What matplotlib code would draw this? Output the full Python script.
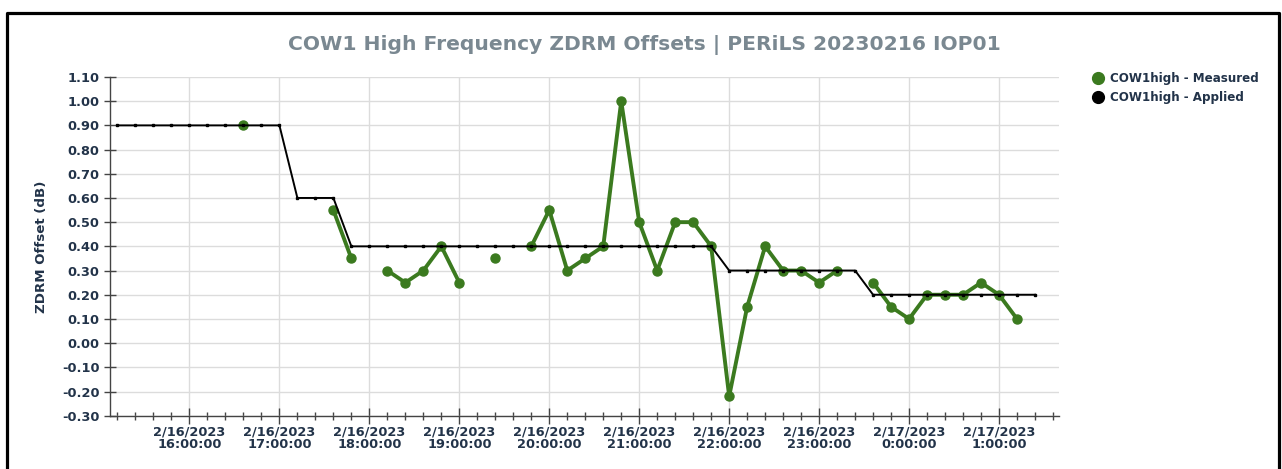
import matplotlib
matplotlib.use("Agg")
import matplotlib.pyplot as plt
import matplotlib.dates as mdates
from matplotlib.lines import Line2D
from matplotlib.ticker import FuncFormatter, MultipleLocator
import numpy as np
import pandas as pd

# ---- data ----
times = pd.date_range("2023-02-16 15:12", "2023-02-17 01:24", freq="12min")
measured = [None, None, None, None, None, None, None, 0.90, None, None,
            None, None, 0.55, 0.35, None, 0.30, 0.25, 0.30, 0.40, 0.25,
            None, 0.35, None, 0.40, 0.55, 0.30, 0.35, 0.40, 1.00, 0.50,
            0.30, 0.50, 0.50, 0.40, -0.22, 0.15, 0.40, 0.30, 0.30, 0.25,
            0.30, None, 0.25, 0.15, 0.10, 0.20, 0.20, 0.20, 0.25, 0.20,
            0.10, None]
applied = [0.90] * 10 + [0.60] * 3 + [0.40] * 21 + [0.30] * 8 + [0.20] * 10

title = "COW1 High Frequency ZDRM Offsets | PERiLS 20230216 IOP01"
ylabel = "ZDRM Offset (dB)"
series_names = ["COW1high - Measured", "COW1high - Applied"]

GREEN = "#3b7a1f"
TXT = "#223349"

plt.rcParams["font.family"] = ["DejaVu Sans"]

fig = plt.figure(figsize=(12.82, 4.69), dpi=100)
ax = fig.add_axes([110 / 1282, 1 - 415.7 / 469, (1059 - 110) / 1282, (415.7 - 77) / 469])

meas = np.array([np.nan if v is None else v for v in measured], dtype=float)
ax.plot(times, meas, color=GREEN, lw=2.8, marker="o", ms=6.5, mec=GREEN, mfc=GREEN,
        solid_joinstyle="miter", zorder=3, label=series_names[0])
ax.plot(times, applied, color="black", lw=1.4, marker="s", ms=1.5, mec="black", mfc="black",
        zorder=4, label=series_names[1])

ax.set_xlim(pd.Timestamp("2023-02-16 15:07"), pd.Timestamp("2023-02-17 01:40"))
ax.set_ylim(-0.30, 1.10)
ax.yaxis.set_major_locator(MultipleLocator(0.10))
ax.yaxis.set_major_formatter(FuncFormatter(lambda v, p: f"{v:.2f}" if abs(v) > 1e-9 else "0.00"))

ax.xaxis.set_major_locator(mdates.HourLocator())
ax.xaxis.set_minor_locator(mdates.MinuteLocator(byminute=[12, 24, 36, 48]))


def fmt(x, pos):
    d = mdates.num2date(x)
    return f"{d.month}/{d.day}/{d.year}\n{d.hour}:{d.minute:02d}:{d.second:02d}"


ax.xaxis.set_major_formatter(FuncFormatter(fmt))

ax.grid(True, which="major", color="#dcdcdc", lw=1.0, zorder=0)
for s in ["top", "right"]:
    ax.spines[s].set_visible(False)
for s in ["left", "bottom"]:
    ax.spines[s].set_color("#444444")
    ax.spines[s].set_linewidth(1.0)

ax.tick_params(axis="x", which="major", direction="inout", length=11, width=1.0, color="#444444",
               labelsize=9.3, labelcolor=TXT, pad=1.5)
ax.tick_params(axis="x", which="minor", direction="inout", length=6, width=1.0, color="#444444")
ax.tick_params(axis="y", which="major", direction="inout", length=9, width=1.0, color="#444444",
               labelsize=9.3, labelcolor=TXT, pad=3)
for lab in ax.get_xticklabels() + ax.get_yticklabels():
    lab.set_fontweight("bold")
for lab in ax.get_xticklabels():
    lab.set_linespacing(0.95)

ax.set_ylabel(ylabel, fontsize=9.6, fontweight="bold", color=TXT, labelpad=10)

fig.text(644 / 1282, 1 - 45 / 469, title, ha="center", va="center", fontsize=14.6,
         fontweight="bold", color="#7a8891")

handles = [Line2D([], [], ls="none", marker="o", ms=8.5, color=GREEN),
           Line2D([], [], ls="none", marker="o", ms=8.5, color="black")]
leg = fig.legend(handles, series_names, loc="upper left", bbox_to_anchor=(1078 / 1282, 1 - 61 / 469),
                 frameon=False, handletextpad=0.25, labelspacing=0.55, handlelength=1.5,
                 prop={"size": 8.6, "weight": "bold"})
for t in leg.get_texts():
    t.set_color(TXT)

# outer frame (left, top, right)
fig.add_artist(Line2D([7 / 1282, 7 / 1282, 1278.5 / 1282, 1278.5 / 1282],
                      [0, 1 - 13 / 469, 1 - 13 / 469, 0], transform=fig.transFigure,
                      color="black", lw=2.3))

fig.savefig("out.png", dpi=100)
